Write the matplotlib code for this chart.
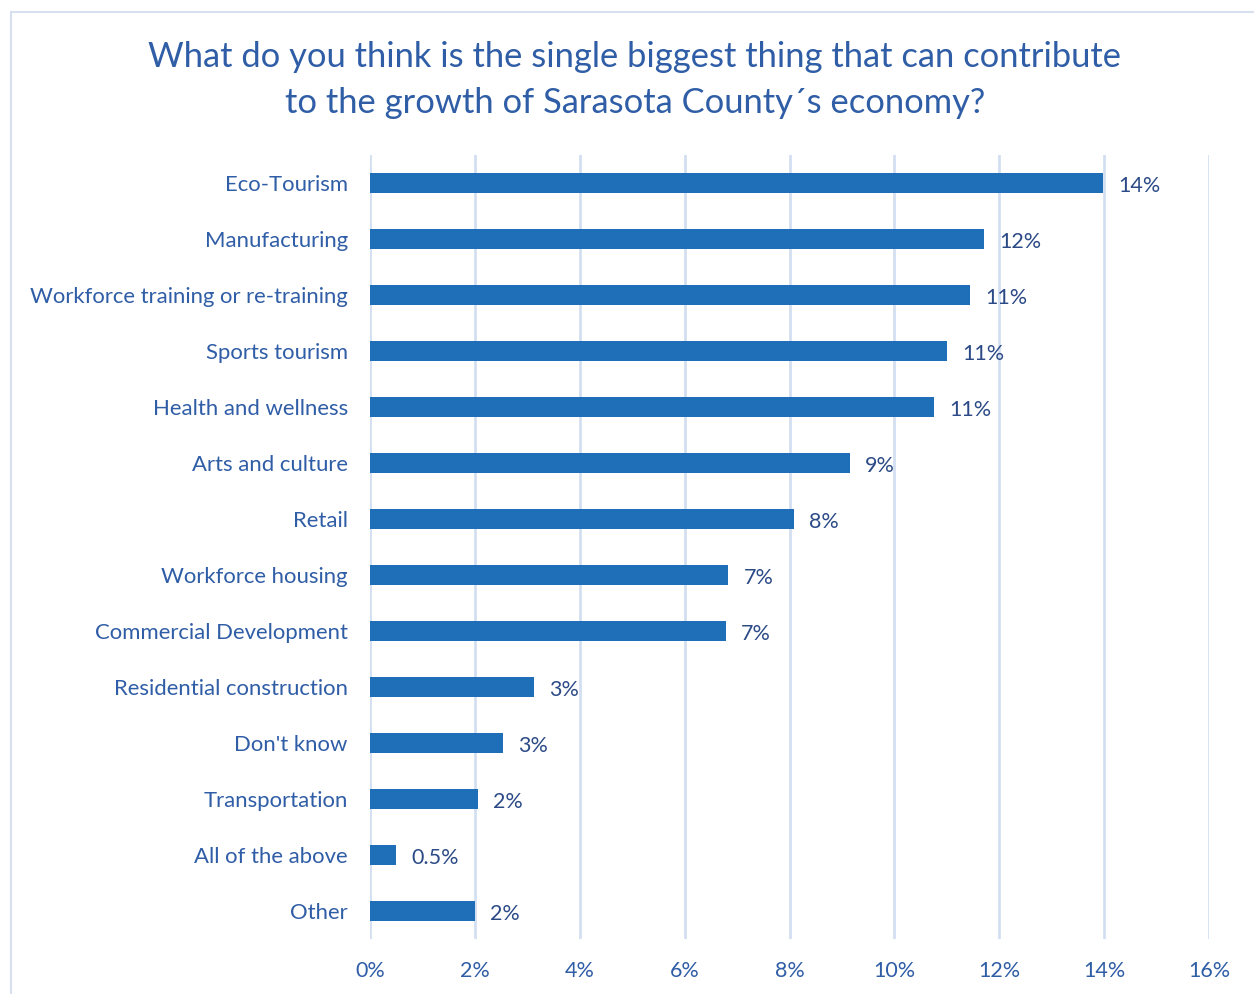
import matplotlib.pyplot as plt
import matplotlib.patches as patches
import numpy as np

plt.rcParams['font.family'] = ['Lato', 'DejaVu Sans']

categories = ["Eco-Tourism", "Manufacturing", "Workforce training or re-training",
              "Sports tourism", "Health and wellness", "Arts and culture", "Retail",
              "Workforce housing", "Commercial Development", "Residential construction",
              "Don't know", "Transportation", "All of the above", "Other"]
values = [13.98, 11.71, 11.44, 11.0, 10.75, 9.15, 8.09, 6.83, 6.79, 3.13, 2.54, 2.06, 0.5, 2.0]
value_labels = ["14%", "12%", "11%", "11%", "11%", "9%", "8%", "7%", "7%", "3%", "3%", "2%", "0.5%", "2%"]
ticks = [0, 2, 4, 6, 8, 10, 12, 14, 16]

bar_color = '#1F6EB8'
text_blue = '#2F5DA6'
label_dark = '#2B4A86'
grid_color = '#D3DFF1'

fig = plt.figure(figsize=(12.54, 9.94), dpi=100)
ax = fig.add_axes([370 / 1254, 55 / 994, 839 / 1254, 784 / 994])

y = np.arange(len(categories))
ax.barh(y, values, height=0.36, color=bar_color, zorder=3)
for yi, v, lab in zip(y, values, value_labels):
    ax.annotate(lab, (v, yi), xytext=(11, -2.5), textcoords='offset points',
                va='center', ha='left', fontsize=15.5, color=label_dark, zorder=4)

ax.set_xlim(0, 16)
ax.set_ylim(len(categories) - 0.5, -0.5)
ax.set_xticks(ticks)
ax.set_xticklabels([f"{t}%" for t in ticks], fontsize=15.5, color=text_blue)
ax.set_yticks(y)
ax.set_yticklabels(categories, fontsize=15.9, color=text_blue)
ax.tick_params(axis='both', length=0)
ax.tick_params(axis='x', pad=16)
ax.tick_params(axis='y', pad=16)
ax.xaxis.grid(True, color=grid_color, linewidth=2, zorder=0)
for s in ax.spines.values():
    s.set_visible(False)

fig.text(635 / 1254, 1 - 80 / 994,
         "What do you think is the single biggest thing that can contribute\nto the growth of Sarasota County\u00b4s economy?",
         ha='center', va='center', fontsize=24.8, color=text_blue, linespacing=1.55)

fig.patches.append(patches.Rectangle((11 / 1254, -0.1), 2, 0.1 + 1 - 12 / 994,
                                     transform=fig.transFigure, fill=False,
                                     edgecolor='#D6E0F0', linewidth=1.5))

fig.savefig('out.png', dpi=100)
